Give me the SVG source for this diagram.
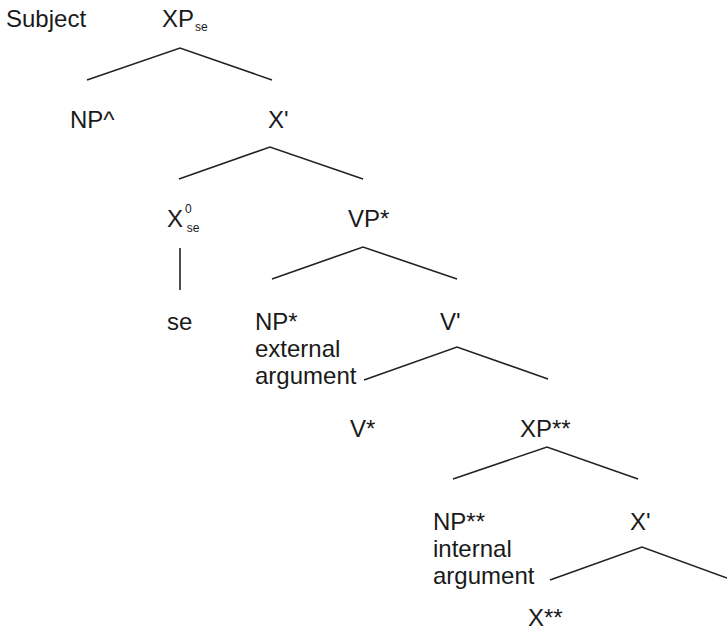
<svg xmlns="http://www.w3.org/2000/svg" width="727" height="633" viewBox="0 0 727 633">
<style>
text{font-family:"Liberation Sans",Arial,sans-serif;font-size:24px;fill:#1a1a1a}
.sm{font-size:12px}
.br{fill:none;stroke:#222;stroke-width:1.6}
</style>
<rect width="727" height="633" fill="#fff"/>
<g id="connectors">
<polyline class="br" points="87,80 180,48 272,80"/>
<polyline class="br" points="179,179 270,147 363,179"/>
<line class="br" x1="180" y1="248" x2="180" y2="290"/>
<polyline class="br" points="272,279 363,247 457,279"/>
<polyline class="br" points="364,380 457,347 548,379"/>
<polyline class="br" points="453,479 547,447 638,479"/>
<polyline class="br" points="550,580 642,547 727,578"/>
</g>
<g id="subject"><text x="6" y="27">Subject</text></g>
<g id="xpse"><text x="162" y="27">XP<tspan class="sm" dx="1" dy="4">se</tspan></text></g>
<g id="np-caret"><text x="70" y="128">NP^</text></g>
<g id="xbar1"><text x="268" y="128">X'</text></g>
<g id="x0se"><text x="167" y="227">X<tspan class="sm" dx="2" dy="-14">0</tspan><tspan class="sm" dx="-5" dy="19">se</tspan></text></g>
<g id="vpstar"><text x="348" y="227">VP*</text></g>
<g id="se"><text x="167" y="330">se</text></g>
<g id="npstar"><text x="255" y="330">NP*</text><text x="255" y="357">external</text><text x="255" y="384">argument</text></g>
<g id="vbar"><text x="440" y="330">V'</text></g>
<g id="vstar"><text x="350" y="437">V*</text></g>
<g id="xp2star"><text x="520" y="437">XP**</text></g>
<g id="np2star"><text x="433" y="530">NP**</text><text x="433" y="557">internal</text><text x="433" y="584">argument</text></g>
<g id="xbar2"><text x="630" y="530">X'</text></g>
<g id="x2star"><text x="528" y="626">X**</text></g>
</svg>
